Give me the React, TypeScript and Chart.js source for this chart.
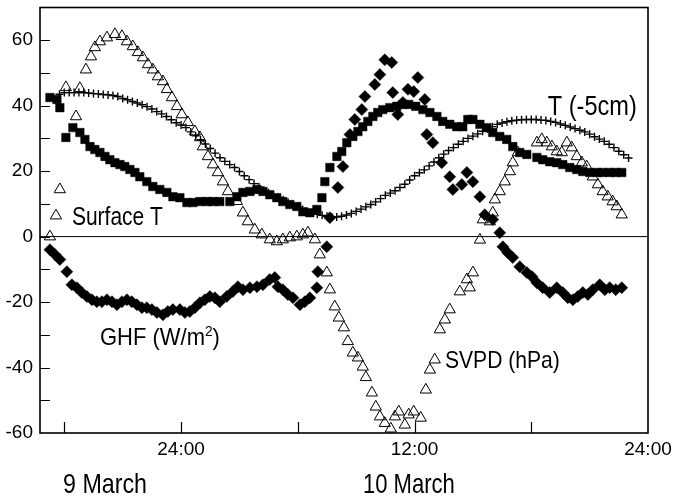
import React, { useEffect, useRef } from 'react';
import { Chart, registerables } from 'chart.js';

Chart.register(...registerables);

// Time axis: hours from 9 March 00:00
const xMin = 16.75;
const xMax = 48;

// Surface T (open triangles, upper arc)
const surfaceTHours = [17.26, 17.77, 18.08, 18.6, 18.8, 19.11, 19.37, 19.57, 19.83, 20.19, 20.6, 20.96, 21.22, 21.52, 21.78, 22.04, 22.3, 22.55, 22.81, 23.07, 23.27, 23.53, 23.79, 24.04, 24.35, 24.71, 24.97, 25.12, 25.38, 25.64, 25.89, 26.15, 26.41, 26.87, 27.18, 27.43, 27.79, 28.15, 28.56, 28.92, 29.23, 29.59, 29.95, 30.26, 30.52, 30.88];
const surfaceTValues = [0, 14.4, 45.6, 36.7, 45.3, 51, 55, 57.8, 59.6, 60.8, 61.8, 61.2, 59.6, 58.1, 56.3, 54.7, 52.6, 51, 48.9, 47.4, 45, 42.5, 39.8, 37.3, 34.9, 32.1, 30.3, 27.5, 24.5, 22, 19.6, 16.8, 13.8, 10.8, 7.3, 4.6, 2.1, 0.6, -0.9, -1.5, -0.9, -0.3, 0, 0.6, 1.2, -0.9];

// SVPD (open triangles, trough and second arc)
const svpdHours = [31.13, 31.49, 31.65, 31.9, 32.11, 32.37, 32.57, 32.83, 33.09, 33.34, 33.5, 33.81, 34.01, 34.22, 34.47, 34.78, 34.99, 35.19, 35.5, 35.7, 35.96, 36.32, 36.58, 36.79, 37.04, 37.3, 37.56, 37.81, 38.33, 38.69, 38.84, 39.0, 39.36, 39.51, 39.87, 40.02, 40.13, 40.38, 40.64, 40.9, 41.05, 41.31, 42.29, 42.54, 42.8, 43.06, 43.31, 43.57, 43.83, 44.08, 44.34, 44.6, 44.85, 45.16, 45.42, 45.67, 45.93, 46.18, 46.39, 46.65];
const svpdValues = [-5.5, -11, -16.2, -21.4, -24.8, -27.8, -32, -35.5, -37, -39.8, -43, -47.7, -52, -55, -57, -58.7, -55, -53.5, -57.5, -54.4, -53.5, -55.4, -46.8, -40.7, -37.6, -28.4, -25.4, -22.3, -16.8, -13.1, -15.6, -11, -1, 5.2, 4.6, 7.3, 11.3, 13.8, 16.8, 19.9, 22.6, 25.7, 28.7, 29.7, 28.7, 27.5, 26, 25.7, 28.7, 27.2, 24.5, 22.6, 21.4, 18.3, 15.9, 13.8, 12.2, 10.7, 9.2, 6.7];

// T (-5cm) (plus markers, 15-minute readings)
const t5Hours = [17.75, 18, 18.25, 18.5, 18.75, 19, 19.25, 19.5, 19.75, 20, 20.25, 20.5, 20.75, 21, 21.25, 21.5, 21.75, 22, 22.25, 22.5, 22.75, 23, 23.25, 23.5, 23.75, 24, 24.25, 24.5, 24.75, 25, 25.25, 25.5, 25.75, 26, 26.25, 26.5, 26.75, 27, 27.25, 27.5, 27.75, 28, 28.25, 28.5, 28.75, 29, 29.25, 29.5, 29.75, 30, 30.25, 30.5, 30.75, 31, 31.25, 31.5, 31.75, 32, 32.25, 32.5, 32.75, 33, 33.25, 33.5, 33.75, 34, 34.25, 34.5, 34.75, 35, 35.25, 35.5, 35.75, 36, 36.25, 36.5, 36.75, 37, 37.25, 37.5, 37.75, 38, 38.25, 38.5, 38.75, 39, 39.25, 39.5, 39.75, 40, 40.25, 40.5, 40.75, 41, 41.25, 41.5, 41.75, 42, 42.25, 42.5, 42.75, 43, 43.25, 43.5, 43.75, 44, 44.25, 44.5, 44.75, 45, 45.25, 45.5, 45.75, 46, 46.25, 46.5, 46.75, 47];
const t5Values = [43.5, 44, 44, 44, 44, 44, 43.9, 43.7, 43.6, 43.4, 43.3, 43.1, 42.8, 42.2, 41.8, 41.3, 40.8, 40.3, 39.7, 39, 38.2, 37.5, 36.7, 35.7, 34.8, 34.1, 33.3, 32, 30.8, 29.6, 28.3, 26.9, 25.5, 24.1, 23, 22, 21.1, 19.9, 18.6, 17.4, 16.2, 15.2, 14.2, 13.4, 12.7, 12, 11.3, 10.5, 9.8, 9.1, 8.3, 7.7, 7.2, 6.8, 6.5, 6.2, 6, 6, 6.2, 6.6, 7.1, 7.7, 8.4, 9.1, 9.8, 10.6, 11.6, 12.6, 13.3, 14, 15, 16, 17.3, 18.6, 19.5, 20.4, 21.6, 22.8, 24.1, 25.2, 26.3, 27.2, 28.2, 29.1, 30, 30.7, 31.4, 32.2, 32.9, 33.6, 34.3, 34.7, 35.1, 35.4, 35.6, 35.7, 35.8, 35.8, 35.8, 35.6, 35.5, 35.2, 34.9, 34.4, 34, 33.5, 33, 32.5, 32, 31.3, 30.5, 29.8, 29.1, 28.2, 27.2, 26.1, 25, 24];

// Filled squares
const squareHours = [17.26, 17.62, 17.77, 18.08, 18.44, 18.8, 19.06, 19.32, 19.57, 19.83, 20.09, 20.34, 20.6, 20.86, 21.11, 21.37, 21.63, 21.88, 22.24, 22.55, 22.91, 23.27, 23.58, 23.94, 24.3, 24.61, 24.97, 25.33, 25.64, 25.99, 26.51, 26.87, 27.18, 27.54, 27.9, 28.21, 28.56, 28.92, 29.23, 29.59, 29.95, 30.26, 30.62, 30.98, 31.24, 31.39, 31.65, 32.01, 32.26, 32.52, 32.83, 33.09, 33.34, 33.6, 33.86, 34.11, 34.37, 34.73, 35.09, 35.4, 35.7, 36.06, 36.43, 36.79, 37.15, 37.45, 37.81, 38.17, 38.48, 38.74, 39.0, 39.36, 39.72, 40.02, 40.38, 40.74, 41.05, 41.41, 41.77, 42.29, 42.59, 42.95, 43.31, 43.62, 43.98, 44.34, 44.65, 45.01, 45.37, 45.67, 46.03, 46.34, 46.65];
const squareValues = [42.5, 41.9, 39.4, 30.3, 33.3, 31.8, 29.7, 27.5, 26.6, 25.7, 24.5, 23.5, 22.6, 22, 21.4, 20.5, 19.6, 18.3, 16.8, 15.3, 14.4, 13.5, 12.2, 11.9, 10.4, 10.4, 10.7, 10.7, 10.7, 10.7, 10.7, 12.2, 13.5, 13.8, 14.4, 13.8, 12.8, 11.9, 10.7, 9.8, 9.2, 7.6, 7.3, 8.3, 11.9, 16.8, 21.1, 24.5, 26, 28.7, 30.6, 32.1, 33.6, 35.2, 36.7, 37.9, 38.8, 39.4, 39.8, 40.4, 40.4, 39.8, 38.8, 37.9, 36.7, 35.2, 34.3, 33.6, 33.6, 35.8, 35.8, 34.3, 33.3, 31.8, 30.6, 29.7, 27.5, 25.7, 25.1, 24.2, 23.5, 22.9, 22.6, 22, 21.1, 20.5, 19.9, 19.6, 19.6, 19.6, 19.6, 19.6, 19.6];

// GHF (filled diamonds)
const ghfHours = [17.26, 17.52, 17.77, 18.13, 18.39, 18.65, 18.9, 19.16, 19.42, 19.67, 19.93, 20.19, 20.45, 20.7, 20.96, 21.22, 21.47, 21.73, 21.99, 22.24, 22.5, 22.76, 23.07, 23.32, 23.58, 23.94, 24.2, 24.45, 24.71, 24.97, 25.22, 25.48, 25.74, 25.99, 26.35, 26.66, 26.92, 27.18, 27.54, 27.9, 28.21, 28.56, 28.82, 28.98, 29.23, 29.49, 29.75, 30.11, 30.36, 30.62, 30.98, 31.03, 31.49, 31.65, 32.06, 32.32, 32.68, 32.93, 33.29, 33.45, 33.96, 34.22, 34.47, 34.83, 34.88, 35.14, 35.4, 35.66, 35.96, 36.17, 36.53, 36.63, 36.94, 37.4, 37.81, 37.97, 38.43, 38.69, 39.0, 39.36, 39.61, 40.02, 40.38, 40.54, 40.79, 41.05, 41.41, 41.77, 42.03, 42.29, 42.59, 42.95, 43.31, 43.62, 43.88, 44.14, 44.39, 44.65, 44.91, 45.16, 45.52, 45.78, 46.03, 46.34, 46.65];
const ghfValues = [-4, -5.5, -7, -10.7, -14.7, -15.6, -17.1, -18.3, -19.3, -19.9, -19.9, -19.3, -19.9, -20.8, -19.9, -19.3, -19.9, -20.8, -21.7, -21.7, -22.3, -23.2, -23.9, -22.9, -22.3, -22.3, -23.2, -22.9, -21.7, -20.2, -19.3, -18.3, -18.7, -19.9, -18.3, -16.8, -15.3, -16.2, -15.6, -15.3, -14.7, -13.1, -12.5, -15.3, -16.2, -17.7, -18.7, -20.8, -19.9, -18.7, -15.6, -10.7, -3.1, 5.8, 15, 21.4, 31.2, 35.8, 38.8, 42.8, 46.5, 49.5, 54, 53.2, 44, 37.3, 41, 45, 44.3, 48.6, 41.9, 31.2, 28.7, 22.6, 18.3, 14.4, 15.9, 19.6, 16.8, 12.2, 6.7, 5.2, 1.2, -3.1, -4.9, -6.4, -9.2, -11, -12.2, -14.1, -15.6, -17.1, -15.6, -17.1, -18.7, -19.3, -18.3, -17.1, -17.7, -16.2, -14.7, -16.2, -15.6, -16.2, -15.6];

// Axis ticks
const xTickHours = [24, 36, 48];
const xTickLabels = ['24:00', '12:00', '24:00'];
const xMarkHours = [18, 24, 30, 36, 42];
const yTickValues = [-60, -40, -20, 0, 20, 40, 60];
const yMarkValues = [-50, -40, -30, -20, -10, 0, 10, 20, 30, 40, 50, 60];

// Day labels (centre hour)
const dayLabels = ['9 March', '10 March'];
const dayLabelHours = [20.09, 35.71];

const FONT = '"Liberation Sans", Arial, Helvetica, sans-serif';

const toPoints = (xs: number[], ys: number[]) => xs.map((x, i) => ({ x, y: ys[i] }));

function drawScaledText(ctx: CanvasRenderingContext2D, text: string, x: number, y: number, size: number, width: number, align: 'left' | 'center' = 'left') {
  ctx.save();
  ctx.font = `${size}px ${FONT}`;
  const w = ctx.measureText(text).width;
  const s = width / w;
  ctx.translate(align === 'center' ? x - width / 2 : x, y);
  ctx.scale(s, 1);
  ctx.textAlign = 'left';
  ctx.textBaseline = 'alphabetic';
  ctx.fillText(text, 0, 0);
  ctx.restore();
}

function drawTriangle(ctx: CanvasRenderingContext2D, x: number, y: number, r: number) {
  let rad = 0;
  ctx.beginPath();
  ctx.moveTo(x + Math.sin(rad) * r, y - Math.cos(rad) * r);
  rad += (2 * Math.PI) / 3;
  ctx.lineTo(x + Math.sin(rad) * r, y - Math.cos(rad) * r);
  rad += (2 * Math.PI) / 3;
  ctx.lineTo(x + Math.sin(rad) * r, y - Math.cos(rad) * r);
  ctx.closePath();
  ctx.stroke();
}

const overlay = {
  id: 'overlay',
  afterDatasetsDraw(chart: any) {
    const { ctx, chartArea: a, scales } = chart;
    const xs = scales.x;
    const ys = scales.y;
    ctx.save();
    ctx.strokeStyle = '#000';
    ctx.fillStyle = '#000';
    // zero line
    ctx.lineWidth = 1;
    const y0 = ys.getPixelForValue(0);
    ctx.beginPath();
    ctx.moveTo(a.left, y0);
    ctx.lineTo(a.right, y0);
    ctx.stroke();
    // frame
    ctx.lineWidth = 1.6;
    ctx.strokeRect(a.left, a.top, a.right - a.left, a.bottom - a.top);
    // inward tick marks
    ctx.lineWidth = 1.2;
    ctx.beginPath();
    for (const v of yMarkValues) {
      const y = Math.round(ys.getPixelForValue(v)) + 0.5;
      ctx.moveTo(a.left, y);
      ctx.lineTo(a.left + 10, y);
    }
    for (const h of xMarkHours) {
      const x = Math.round(xs.getPixelForValue(h)) + 0.5;
      ctx.moveTo(x, a.bottom);
      ctx.lineTo(x, a.bottom - 11);
    }
    ctx.stroke();

    // series labels
    drawScaledText(ctx, 'Surface T', xs.getPixelForValue(18.39), ys.getPixelForValue(3.7), 26, 91);
    ctx.lineWidth = 1;
    drawTriangle(ctx, xs.getPixelForValue(17.57), ys.getPixelForValue(6.4), 6.5);
    drawScaledText(ctx, 'T (-5cm)', xs.getPixelForValue(42.85), ys.getPixelForValue(37.3), 28, 89);
    drawScaledText(ctx, 'SVPD (hPa)', xs.getPixelForValue(37.56), ys.getPixelForValue(-40.1), 24, 115);

    // GHF (W/m²) with superscript
    {
      const gx = xs.getPixelForValue(19.83);
      const gy = ys.getPixelForValue(-33.0);
      const size = 24;
      const supSize = 15;
      ctx.save();
      ctx.font = `${size}px ${FONT}`;
      const w1 = ctx.measureText('GHF (W/m').width;
      const w3 = ctx.measureText(')').width;
      ctx.font = `${supSize}px ${FONT}`;
      const w2 = ctx.measureText('2').width;
      const total = w1 + w2 + w3;
      const s = 120 / total;
      ctx.translate(gx, gy);
      ctx.scale(s, 1);
      ctx.font = `${size}px ${FONT}`;
      ctx.fillText('GHF (W/m', 0, 0);
      ctx.font = `${supSize}px ${FONT}`;
      ctx.fillText('2', w1, -9);
      ctx.font = `${size}px ${FONT}`;
      ctx.fillText(')', w1 + w2, 0);
      ctx.restore();
    }

    // day labels under the axis
    const dayWidths = [84, 92];
    dayLabels.forEach((t, i) => {
      drawScaledText(ctx, t, xs.getPixelForValue(dayLabelHours[i]), a.bottom + 60, 28, dayWidths[i], 'center');
    });
    ctx.restore();
  },
};

export default function App() {
  const ref = useRef<HTMLCanvasElement | null>(null);

  useEffect(() => {
    if (!ref.current) return;
    const triangleStyle = {
      pointStyle: 'triangle',
      pointRadius: 6.5,
      pointBorderWidth: 1,
      pointBorderColor: '#000',
      pointBackgroundColor: 'rgba(0,0,0,0)',
      showLine: false,
    };
    const chart = new Chart(ref.current, {
      type: 'scatter',
      data: {
        datasets: [
          { label: 'Surface T', data: toPoints(surfaceTHours, surfaceTValues), ...triangleStyle },
          { label: 'SVPD (hPa)', data: toPoints(svpdHours, svpdValues), ...triangleStyle },
          {
            label: 'T (-5cm)',
            data: toPoints(t5Hours, t5Values),
            pointStyle: 'cross',
            pointRadius: 4,
            pointBorderWidth: 1.4,
            pointBorderColor: '#000',
            showLine: false,
          },
          {
            label: 'Squares',
            data: toPoints(squareHours, squareValues),
            pointStyle: 'rect',
            pointRadius: 6,
            pointBorderWidth: 0.5,
            pointBorderColor: '#000',
            pointBackgroundColor: '#000',
            showLine: false,
          },
          {
            label: 'GHF (W/m2)',
            data: toPoints(ghfHours, ghfValues),
            pointStyle: 'rectRot',
            pointRadius: 6,
            pointBorderWidth: 0.5,
            pointBorderColor: '#000',
            pointBackgroundColor: '#000',
            showLine: false,
          },
        ] as any,
      },
      options: {
        animation: false,
        responsive: false,
        events: [],
        layout: { padding: { top: 6, right: 27, bottom: 0, left: 0 } },
        plugins: { legend: { display: false }, tooltip: { enabled: false } },
        scales: {
          x: {
            type: 'linear',
            min: xMin,
            max: xMax,
            grid: { display: false, drawTicks: false },
            border: { display: false },
            afterBuildTicks: (s: any) => {
              s.ticks = xTickHours.map((v) => ({ value: v }));
            },
            afterFit: (s: any) => {
              s.height = 68;
              s.paddingLeft = 0;
              s.paddingRight = 0;
            },
            ticks: {
              padding: 5,
              color: '#000',
              maxRotation: 0,
              autoSkip: false,
              font: { family: FONT, size: 19 },
              callback: (_v: any, i: number) => xTickLabels[i],
            },
          },
          y: {
            type: 'linear',
            min: -60,
            max: 70,
            grid: { display: false, drawTicks: false },
            border: { display: false },
            afterBuildTicks: (s: any) => {
              s.ticks = yTickValues.map((v) => ({ value: v }));
            },
            afterFit: (s: any) => {
              s.width = 40;
              s.paddingTop = 0;
              s.paddingBottom = 0;
            },
            ticks: {
              padding: 7,
              color: '#000',
              autoSkip: false,
              font: { family: FONT, size: 19 },
              callback: (v: any) => String(v),
            },
          },
        },
      } as any,
      plugins: [overlay],
    });
    return () => chart.destroy();
  }, []);

  return (
    <div style={{ position: 'absolute', left: 0, top: 0, width: 675, height: 501, background: '#fff' }}>
      <canvas ref={ref} width={675} height={501} style={{ display: 'block', width: 675, height: 501 }} />
    </div>
  );
}
